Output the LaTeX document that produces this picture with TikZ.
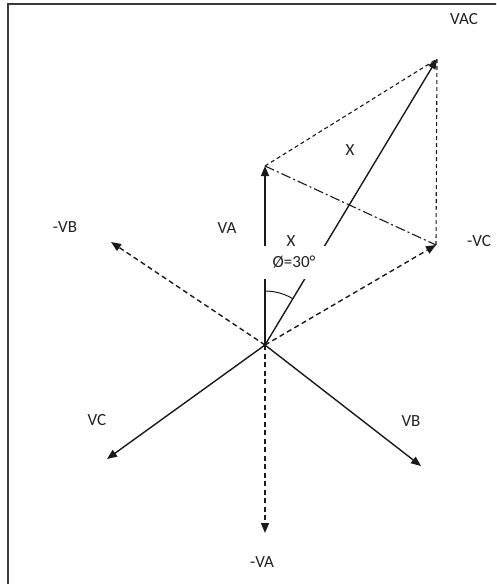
\documentclass[tikz,border=0pt]{standalone}
\usepackage{fontspec}
\setmainfont{Carlito}
\usetikzlibrary{arrows.meta,positioning,calc}
\definecolor{PhLine}{HTML}{1A1A1A}
\definecolor{PhFrame}{HTML}{3A3A3A}
\definecolor{PhText}{HTML}{222222}
\tikzset{
  phasor/.style={-{Triangle[length=10pt,width=8pt]},line width=1.4pt,draw=PhLine},
  negphasor/.style={phasor,dash pattern=on 5pt off 3.5pt},
  sumside/.style={line width=1.1pt,draw=PhLine,dash pattern=on 4pt off 3pt},
  sumdiag/.style={line width=1.1pt,draw=PhLine,dash pattern=on 10pt off 3pt on 2pt off 3pt},
  phlabel/.style={font=\fontsize{17}{20}\selectfont,text=PhText,inner sep=1pt},
  anglebox/.style={phlabel,fill=white,minimum width=70pt,minimum height=33pt}
}

\begin{document}
\begin{tikzpicture}[x=1pt,y=-1pt]
\useasboundingbox (0,0) rectangle (496,584);
\clip (0,0) rectangle (496,584);
\draw[line width=2pt,draw=PhFrame] (8,4) rectangle (510,600);
% phasor end points
\coordinate (O) at (265,345);
\coordinate (va) at (265,166);
\coordinate (nva) at (265,533);
\coordinate (vb) at (421,466);
\coordinate (nvb) at (111,242);
\coordinate (vc) at (107,459);
\coordinate (nvc) at (436,245);
\coordinate (vac) at (437,59);
% reversed phasors and construction lines
\draw[negphasor] (O) -- (nva);
\draw[negphasor] (O) -- (nvb);
\draw[negphasor] (O) -- (nvc);
\draw[sumside] (va) -- (vac);
\draw[sumside] (vac) -- (nvc);
\draw[sumdiag] (va) -- (nvc);
% phasors
\draw[phasor] (O) -- (va);
\draw[phasor] (O) -- (vb);
\draw[phasor] (O) -- (vc);
\draw[phasor] (O) -- (vac);
\node[anglebox] (phi) at (294,262) {Ø=30°};
\draw[line width=1pt,draw=PhLine] ($(O)+(0,-54)$) arc[start angle=90,end angle=59,radius=54pt];
% labels
\node[phlabel] (lvac) at (464,19) {VAC};
\node[phlabel] (lva) at (227,228) {VA};
\node[phlabel] (lnva) at (262,562) {-VA};
\node[phlabel] (lvb) at (411,421) {VB};
\node[phlabel] (lnvb) at (65,227) {-VB};
\node[phlabel] (lvc) at (97,420) {VC};
\node[phlabel] (lnvc) at (479,241) {-VC};
\node[phlabel] (lx1) at (350,150) {X};
\node[phlabel] (lx2) at (291,241) {X};
\end{tikzpicture}
\end{document}
